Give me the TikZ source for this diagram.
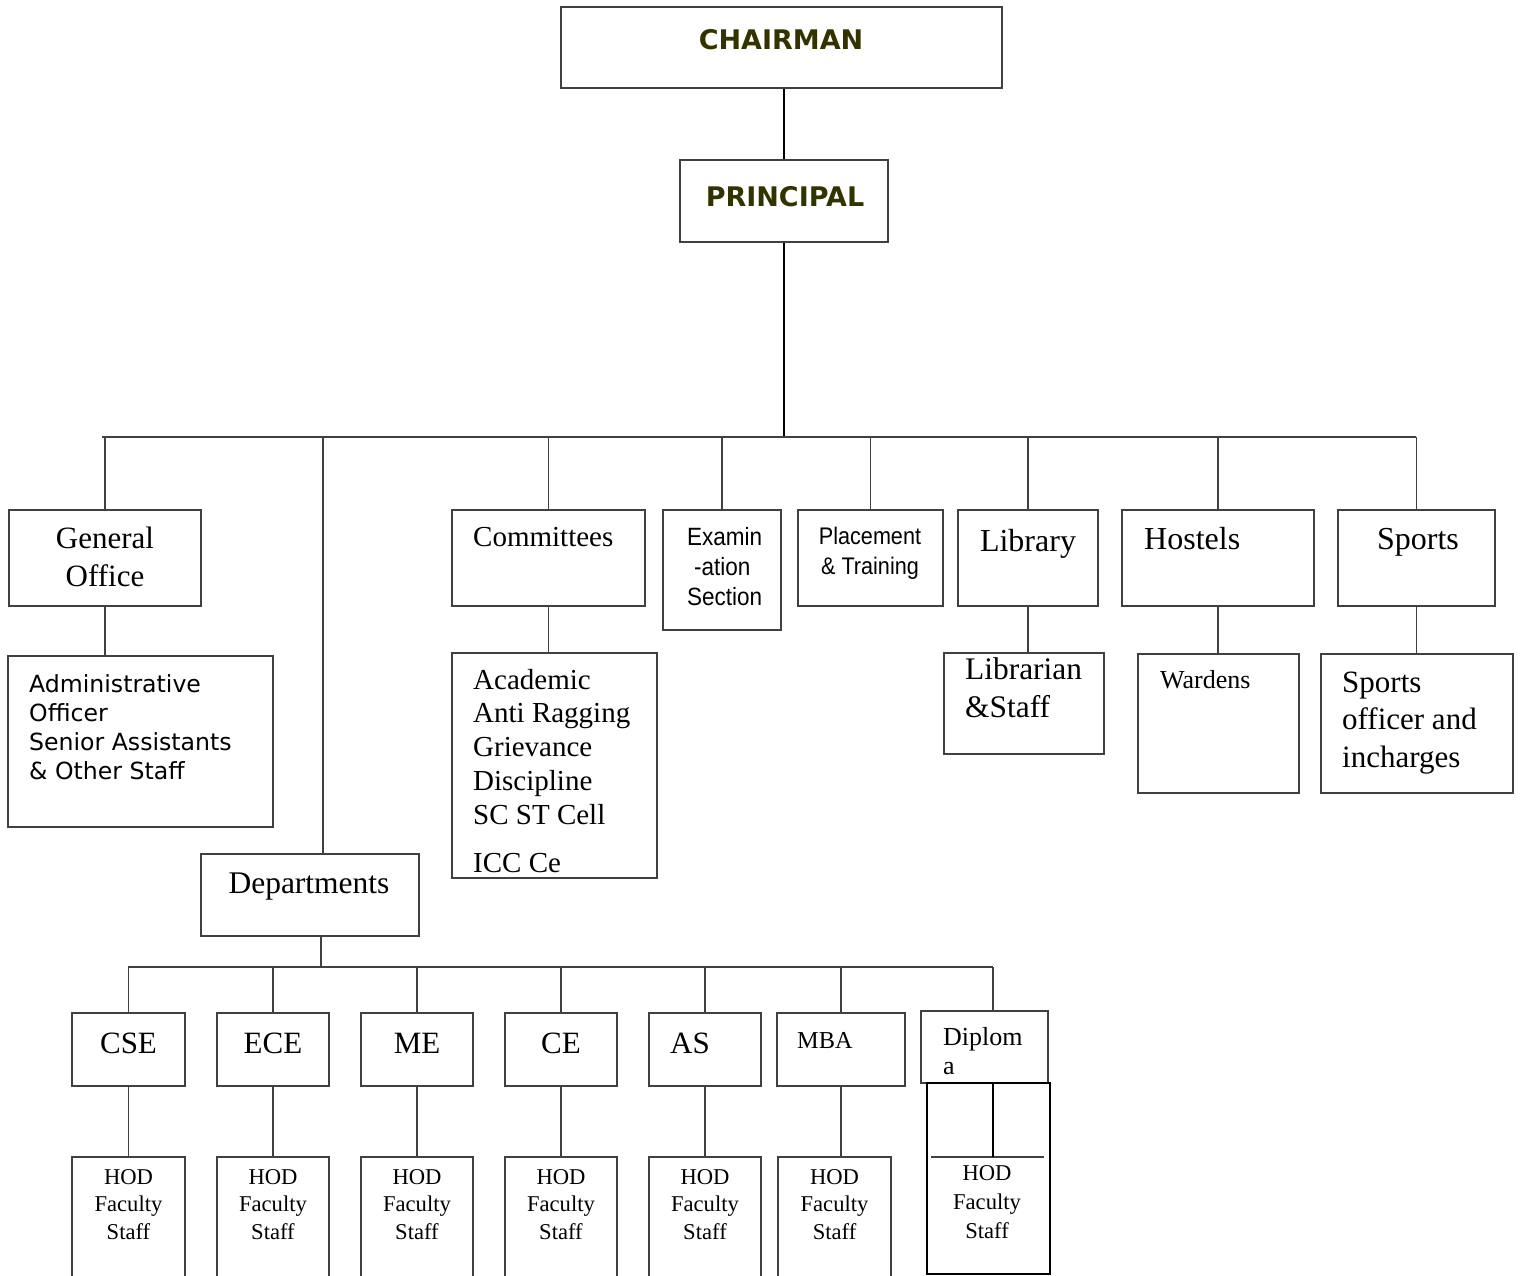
\documentclass[tikz,border=0pt]{standalone}
\usepackage{fontspec}
\setmainfont{Liberation Serif}
\newfontfamily\verdfont{DejaVu Sans}
\newfontfamily\narrowfont[FakeStretch=0.9]{Liberation Sans}
\usetikzlibrary{fit}
\definecolor{headcol}{RGB}{51,51,0}
\definecolor{linecol}{RGB}{64,64,64}
\newcommand{\fs}[2]{\fontsize{#1}{#2}\selectfont}

\begin{document}
\begin{tikzpicture}[x=1pt,y=-1pt,
	box/.style={draw=linecol,line width=1.6pt,inner sep=0pt,fit={#1}},
	txt/.style={inner sep=0pt,anchor=base,align=center},
	ltxt/.style={inner sep=0pt,anchor=base west,align=left},
	wire/.style={draw=linecol,line width=1.6pt},
	trunk/.style={draw=black,line width=2.2pt}]
	\useasboundingbox (0,0) rectangle (1520,1276);

	% top of the tree
	\node[box={(561,7) (1002,88)}] (chair) {};
	\node[txt,font=\verdfont\bfseries\fs{27}{32},text=headcol] (chairt) at (781,50) {CHAIRMAN};
	\node[box={(680,160) (888,242)}] (princ) {};
	\node[txt,font=\verdfont\bfseries\fs{27}{32},text=headcol] (princt) at (785,207) {PRINCIPAL};

	% first row (multi-line texts sit on their last baseline)
	\node[box={(9,510) (201,606)}] (genoff) {};
	\node[txt,font=\fs{31}{38}] (genofft) at (105,586) {General\\Office};
	\node[box={(452,510) (645,606)}] (comm) {};
	\node[ltxt,font=\fs{29}{34}] (commt) at (473,546) {Committees};
	\node[box={(663,510) (781,630)}] (exam) {};
	\node[ltxt,font=\narrowfont\fs{25}{30}] (examt) at (687,605) {Examin\\\hspace*{7pt}-ation\\Section};
	\node[box={(798,510) (943,606)}] (place) {};
	\node[txt,font=\narrowfont\fs{24}{30}] (placet) at (870,574) {Placement\\\& Training};
	\node[box={(958,510) (1098,606)}] (lib) {};
	\node[txt,font=\fs{32}{38}] (libt) at (1028,551) {Library};
	\node[box={(1122,510) (1314,606)}] (host) {};
	\node[ltxt,font=\fs{32}{38}] (hostt) at (1144,549) {Hostels};
	\node[box={(1338,510) (1495,606)}] (sport) {};
	\node[txt,font=\fs{32}{38}] (sportt) at (1418,549) {Sports};

	% second row
	\node[box={(8,656) (273,827)}] (adm) {};
	\node[ltxt,font=\verdfont\fs{23.6}{29}] (admt) at (29,779) {Administrative\\Officer\\Senior Assistants\\\& Other Staff};
	\node[box={(452,653) (657,878)}] (comlist) {};
	\node[ltxt,font=\fs{29}{33.8}] (comlistt) at (473,872) {Academic\\Anti Ragging\\Grievance\\Discipline\\SC ST Cell\\[14pt]ICC Ce};
	\node[box={(944,653) (1104,754)}] (libst) {};
	\node[ltxt,font=\fs{31.4}{38}] (libstt) at (965,717) {Librarian\\\&Staff};
	\node[box={(1138,654) (1299,793)}] (ward) {};
	\node[ltxt,font=\fs{26}{30}] (wardt) at (1160,688) {Wardens};
	\node[box={(1321,654) (1513,793)}] (spoff) {};
	\node[ltxt,font=\fs{31}{37.5}] (spofft) at (1342,767) {Sports\\officer and\\incharges};

	% departments
	\node[box={(201,854) (419,936)}] (dept) {};
	\node[txt,font=\fs{31.5}{38}] (deptt) at (309,893) {Departments};
	\foreach \nm/\lab/\xa/\xb in {cse/CSE/72/185,ece/ECE/217/329,me/ME/361/473,ce/CE/505/617}{
		\node[box={(\xa,1013) (\xb,1086)}] (\nm) {};
		\node[txt,font=\fs{31}{36}] (\nm t) at ({(\xa+\xb)/2},1053) {\lab};
	}
	\node[box={(649,1013) (761,1086)}] (as) {};
	\node[ltxt,font=\fs{31}{36}] (ast) at (670,1053) {AS};
	\node[box={(777,1013) (905,1086)}] (mba) {};
	\node[ltxt,font=\fs{24.3}{29}] (mbat) at (797,1048) {MBA};
	\node[box={(921,1011) (1048,1083)}] (dip) {};
	\node[ltxt,font=\fs{26}{29}] (dipt) at (943,1074) {Diplom\\a};

	% staff under each department
	\foreach \nm/\xa/\xb in {cse/72/185,ece/217/329,me/361/473,ce/505/617,as/649/761,mba/778/891}{
		\node[box={(\xa,1157) (\xb,1292)}] (\nm hod) {};
		\node[txt,font=\fs{22.6}{27.5}] (\nm hodt) at ({(\xa+\xb)/2},1239) {HOD\\Faculty\\Staff};
	}
	\node[box={(927,1083) (1050,1274)},draw=black,line width=2.4pt] (diphod) {};
	\node[txt,font=\fs{22.6}{29}] (diphodt) at (987,1238) {HOD\\Faculty\\Staff};

	% connectors
	\coordinate (barL) at (102,437);
	\coordinate (barR) at (1416,437);
	\coordinate (depttap) at (323,437);
	\coordinate (subL) at (128,967);
	\coordinate (subR) at (993,967);
	\coordinate (subtap) at (321,967);
	\coordinate (dipL) at (931,1157);
	\coordinate (dipR) at (1044,1157);
	\draw[trunk] (princ.north) -- (princ.north |- chair.south);
	\draw[trunk] (princ.south) -- (princ.south |- barL);
	\draw[wire] (barL) -- (barR);
	\foreach \b in {genoff,comm,exam,place,lib,host,sport}
		\draw[wire] (barL -| \b.north) -- (\b.north);
	\foreach \a/\b in {genoff/adm,comm/comlist,lib/libst,host/ward,sport/spoff}
		\draw[wire] (\a.south) -- (\a.south |- \b.north);
	\draw[wire] (depttap) -- (depttap |- dept.north);
	\draw[wire] (subtap |- dept.south) -- (subtap);
	\draw[wire] (subL) -- (subR);
	\foreach \b in {cse,ece,me,ce,as,mba}{
		\draw[wire] (subL -| \b.north) -- (\b.north);
		\draw[wire] (\b.south) -- (\b.south |- \b hod.north);
	}
	\draw[wire] (subR) -- (subR |- dip.north);
	\draw[wire] (dipL) -- (dipR);
	\draw[wire,draw=black] (dip.south -| subR) -- (dipL -| subR);
\end{tikzpicture}
\end{document}
